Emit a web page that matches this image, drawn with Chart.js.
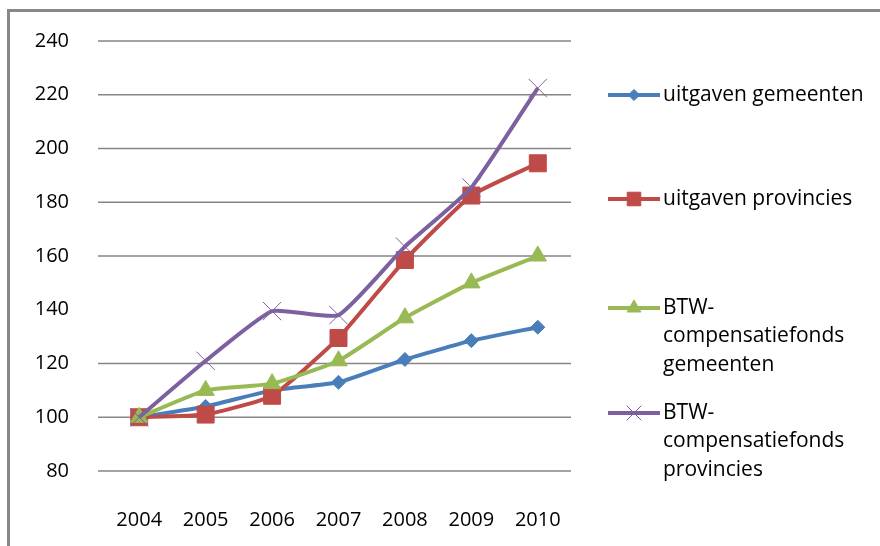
<!DOCTYPE html>
<html>
<head>
<meta charset="utf-8">
<script src="https://cdn.jsdelivr.net/npm/chart.js@4"></script>
<style>
    html, body { margin: 0; padding: 0; background: #fff; }
    #wrap { position: relative; width: 880px; height: 546px; overflow: hidden; }
    #frame {
        position: absolute; left: 7px; top: 9px; width: 900px; height: 560px;
        border-left: 3px solid #878787; border-top: 3px solid #878787;
        pointer-events: none;
    }
    canvas { position: absolute; left: 0; top: 0; }
</style>
</head>
<body>
<div id="wrap">
    <canvas id="chart" width="880" height="546"></canvas>
    <div id="frame"></div>
</div>
<script>
const years = ['2004', '2005', '2006', '2007', '2008', '2009', '2010'];

const uitgavenGemeenten = [100, 104, 110, 113, 121.5, 128.5, 133.5];
const uitgavenProvincies = [100, 101, 108, 129.5, 158.5, 182.5, 194.5];
const btwGemeenten = [100, 110, 112.5, 121, 137, 150, 160];
const btwProvincies = [100, 121, 139.5, 138, 163.5, 185.5, 222.5];

const yTicks = [80, 100, 120, 140, 160, 180, 200, 220, 240];
// the original picture has no gridline at 140
const gridValues = [80, 100, 120, 160, 180, 200, 220, 240];
const hiddenGrid = [140];

const seriesNames = [
    ['uitgaven gemeenten'],
    ['uitgaven provincies'],
    ['BTW-', 'compensatiefonds', 'gemeenten'],
    ['BTW-', 'compensatiefonds', 'provincies']
];

const fontFamily = '"Open Sans", Lato, sans-serif';

// Horizontal gridlines (plus the small outward tick) at the y scale's own positions
const yGrid = {
    id: 'yGrid',
    beforeDatasetsDraw(chart) {
        const ctx = chart.ctx;
        const y = chart.scales.y;
        const area = chart.chartArea;
        ctx.save();
        // blank out any line left at the hidden values
        ctx.fillStyle = '#fff';
        hiddenGrid.forEach(v => {
            const py = y.getPixelForValue(v);
            ctx.fillRect(area.left - 12, py - 2.5, area.right - area.left + 16, 5);
        });
        ctx.strokeStyle = '#868686';
        ctx.lineWidth = 1.5;
        gridValues.forEach(v => {
            const py = y.getPixelForValue(v);
            ctx.beginPath();
            ctx.moveTo(area.left - 8, py);
            ctx.lineTo(area.right, py);
            ctx.stroke();
        });
        ctx.restore();
    }
};

// Legend drawn by hand so the labels can wrap over several lines like the original
const sideLegend = {
    id: 'sideLegend',
    afterDraw(chart) {
        const ctx = chart.ctx;
        const rows = [95, 199, 308, 413];
        const lineHeight = 28.5;
        ctx.save();
        chart.data.datasets.forEach((ds, i) => {
            const y = rows[i];
            ctx.strokeStyle = ds.borderColor;
            ctx.lineWidth = 4;
            ctx.beginPath();
            ctx.moveTo(608, y);
            ctx.lineTo(660, y);
            ctx.stroke();
            ctx.fillStyle = ds.pointBackgroundColor;
            ctx.strokeStyle = ds.pointBorderColor;
            ctx.lineWidth = ds.pointBorderWidth;
            Chart.helpers.drawPoint(ctx, {
                pointStyle: ds.pointStyle,
                radius: ds.pointRadius * 0.8,
                borderWidth: ds.pointBorderWidth
            }, 634, y);
            ctx.fillStyle = '#000';
            ctx.font = '21px ' + fontFamily;
            ctx.textBaseline = 'middle';
            ctx.textAlign = 'left';
            seriesNames[i].forEach((line, j) => {
                ctx.fillText(line, 663, y + j * lineHeight);
            });
        });
        ctx.restore();
    }
};

new Chart(document.getElementById('chart'), {
    type: 'line',
    data: {
        labels: years,
        datasets: [
            {
                label: seriesNames[0].join(' '),
                data: uitgavenGemeenten,
                borderColor: '#4A7EBB',
                pointBackgroundColor: '#4A7EBB',
                pointBorderColor: '#4A7EBB',
                pointStyle: 'rectRot',
                pointRadius: 7,
                pointBorderWidth: 1,
                order: 4
            },
            {
                label: seriesNames[1].join(' '),
                data: uitgavenProvincies,
                borderColor: '#BE4B48',
                pointBackgroundColor: '#BE4B48',
                pointBorderColor: '#BE4B48',
                pointStyle: 'rect',
                pointRadius: 12,
                pointBorderWidth: 1,
                order: 3
            },
            {
                label: seriesNames[2].join(' '),
                data: btwGemeenten,
                borderColor: '#98B954',
                pointBackgroundColor: '#98B954',
                pointBorderColor: '#98B954',
                pointStyle: 'triangle',
                pointRadius: 10,
                pointBorderWidth: 1,
                order: 2
            },
            {
                label: seriesNames[3].join(' '),
                data: btwProvincies,
                borderColor: '#7D60A0',
                pointBackgroundColor: '#7D60A0',
                pointBorderColor: '#7D60A0',
                pointStyle: 'crossRot',
                pointRadius: 13,
                pointBorderWidth: 1,
                order: 1
            }
        ]
    },
    options: {
        responsive: false,
        animation: false,
        devicePixelRatio: 1,
        elements: {
            line: { borderWidth: 4, tension: 0.15 }
        },
        layout: {
            padding: { left: 0, top: 35, right: 309, bottom: 0 }
        },
        scales: {
            x: {
                offset: true,
                grid: { display: false, offset: true },
                border: { display: false },
                ticks: {
                    color: '#000',
                    padding: 29,
                    maxRotation: 0,
                    font: { family: fontFamily, size: 20 }
                },
                afterFit: (scale) => { scale.height = 75; }
            },
            y: {
                min: 80,
                max: 240,
                border: { display: false },
                grid: { display: false },
                afterBuildTicks: (scale) => {
                    scale.ticks = yTicks.map(v => ({ value: v }));
                },
                ticks: {
                    color: '#000',
                    padding: 29,
                    font: { family: fontFamily, size: 20 }
                },
                afterFit: (scale) => { scale.width = 106; }
            }
        },
        plugins: {
            legend: { display: false },
            tooltip: { enabled: false }
        }
    },
    plugins: [yGrid, sideLegend]
});
</script>
</body>
</html>
